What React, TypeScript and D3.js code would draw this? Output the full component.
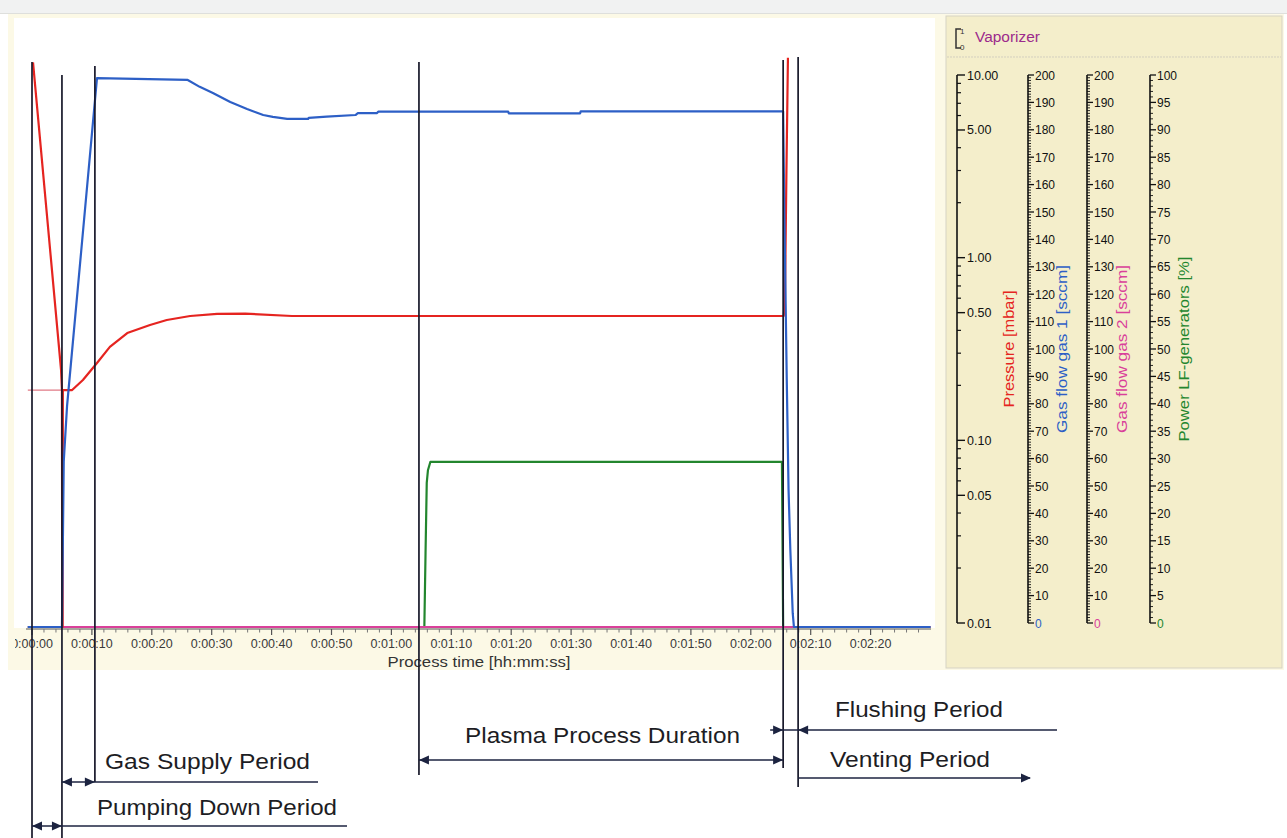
import React from "react";
import * as d3 from "d3";

type Pt = [number, number];

// ---------- DATA ----------
const timeTickValues = [0, 10, 20, 30, 40, 50, 60, 70, 80, 90, 100, 110, 120, 130, 140];
const timeTickLabels = [
  "0:00:00", "0:00:10", "0:00:20", "0:00:30", "0:00:40", "0:00:50", "0:01:00",
  "0:01:10", "0:01:20", "0:01:30", "0:01:40", "0:01:50", "0:02:00", "0:02:10", "0:02:20",
];

const pressureTickValues = [10, 5, 1, 0.5, 0.1, 0.05, 0.01];
const pressureTickLabels = ["10.00", "5.00", "1.00", "0.50", "0.10", "0.05", "0.01"];
const gasFlowTickValues = [0, 10, 20, 30, 40, 50, 60, 70, 80, 90, 100, 110, 120, 130, 140, 150, 160, 170, 180, 190, 200];
const powerTickValues = [0, 5, 10, 15, 20, 25, 30, 35, 40, 45, 50, 55, 60, 65, 70, 75, 80, 85, 90, 95, 100];

// time [s], pressure [mbar]
const pressure: Pt[] = [
  [0.17, 11.7], [4.85, 0.25], [5.0, 0.194], [5.05, 0.01], [5.12, 0.01], [5.15, 0.194],
  [6.7, 0.194], [8.5, 0.22], [10.85, 0.272], [13.0, 0.333], [15.9, 0.396], [19.7, 0.438],
  [22.5, 0.466], [26.4, 0.49], [30.9, 0.503], [35.6, 0.505], [43.4, 0.49], [50, 0.49],
  [125.5, 0.49], [125.7, 0.6], [125.95, 3.0], [126.2, 12.4],
];
const pressureStartLevel: Pt[] = [[-0.7, 0.194], [5.0, 0.194]];

// time [s], gas flow gas 1 [sccm]
const gasFlow1: Pt[] = [
  [-0.7, 0], [5.0, 0], [5.3, 60], [5.85, 80], [10.85, 198.9], [26.0, 198.2], [28.0, 195.7],
  [30.2, 193.5], [33.1, 190.2], [35.9, 187.7], [38.6, 185.5], [40.2, 184.8], [42.6, 184.1],
  [46.1, 184.1], [46.2, 184.5], [49.2, 184.9], [54.0, 185.5], [54.4, 186.2], [57.6, 186.2],
  [57.8, 186.7], [79.5, 186.7], [79.6, 186.1], [91.5, 186.1], [91.6, 186.8], [125.4, 186.8],
  [125.6, 150], [126.0, 90], [126.3, 50], [126.6, 28], [127.0, 5], [127.2, 0], [150, 0],
];
// time [s], gas flow gas 2 [sccm]
const gasFlow2: Pt[] = [[-0.7, 0], [150, 0]];
// time [s], power LF-generators [%]
const powerLF: Pt[] = [
  [-0.7, 0], [65.5, 0], [65.7, 13.4], [65.9, 26.1], [66.1, 28.4], [66.5, 29.9],
  [125.2, 29.9], [125.4, 0], [150, 0],
];

// period boundaries [s]
const periodTimes = [0, 5.0, 10.5, 64.6, 125.4, 127.9];
const periodLabels = [
  "Pumping Down Period", "Gas Supply Period", "Plasma Process Duration", "Flushing Period", "Venting Period",
];

// ---------- LAYOUT ----------
const W = 1287;
const H = 838;
const PLOT = { left: 14, right: 935, top: 18, bottom: 627 };
const markerTop = [62, 75, 66, 62, 60, 57];
const markerBottom = [838, 838, 782, 775, 768, 787];

const COLORS = {
  pressure: "#e52420",
  gas1: "#2d5fc6",
  gas2: "#d9409a",
  power: "#23862e",
  marker: "#17182a",
  ink: "#1c2340",
};

const FONT = "'Liberation Sans', Arial, sans-serif";

function arrow(tipX: number, y: number, dir: number) {
  const l = 10, h = 4.5;
  return `${tipX},${y} ${tipX - dir * l},${y - h} ${tipX - dir * l},${y + h}`;
}

export default function App() {
  const x = d3.scaleLinear().domain([0, 150]).range([32, 930.5]);
  const yP = d3.scaleLog().domain([0.01, 10]).range([627, 75]);
  const yG = d3.scaleLinear().domain([0, 200]).range([627, 75]);
  const yW = d3.scaleLinear().domain([0, 100]).range([627, 75]);

  const pP = d3.scaleLog().domain([0.01, 10]).range([623, 75]);
  const pG = d3.scaleLinear().domain([0, 200]).range([623, 75]);
  const pW = d3.scaleLinear().domain([0, 100]).range([623, 75]);

  const lineP = d3.line<Pt>().x((d) => x(d[0])).y((d) => yP(d[1]));
  const lineG = d3.line<Pt>().x((d) => x(d[0])).y((d) => yG(d[1]));
  const lineW = d3.line<Pt>().x((d) => x(d[0])).y((d) => yW(d[1]));

  const minorTimeTicks = d3.range(0, 151, 2).filter((t) => t % 10 !== 0);

  const pressureMinor: number[] = [];
  [0.01, 0.1, 1].forEach((dec) => {
    for (let k = 2; k <= 9; k++) {
      if (k !== 5) pressureMinor.push(dec * k);
    }
  });
  const gasMinor = d3.range(0, 201, 1).filter((v) => v % 10 !== 0);
  const powerMinor = d3.range(0, 101, 1).filter((v) => v % 5 !== 0);

  const mx = periodTimes.map((t) => x(t));

  const panelAxes = [
    { ax: 1028, scale: pG, ticks: gasFlowTickValues, minor: gasMinor, color: COLORS.gas1, title: "Gas flow gas 1 [sccm]", tx: 1067, tlen: 168 },
    { ax: 1087, scale: pG, ticks: gasFlowTickValues, minor: gasMinor, color: COLORS.gas2, title: "Gas flow gas 2 [sccm]", tx: 1127, tlen: 168 },
    { ax: 1150, scale: pW, ticks: powerTickValues, minor: powerMinor, color: COLORS.power, title: "Power LF-generators [%]", tx: 1189, tlen: 185 },
  ];

  return (
    <svg width={W} height={H} style={{ position: "absolute", left: 0, top: 0, fontFamily: FONT }}>
      <defs>
        <clipPath id="plotClip">
          <rect x={PLOT.left} y={PLOT.top} width={PLOT.right - PLOT.left} height={PLOT.bottom - PLOT.top + 1.5} />
        </clipPath>
        <clipPath id="tickClip">
          <rect x={15} y={630} width={925} height={30} />
        </clipPath>
      </defs>

      {/* backgrounds */}
      <rect x={0} y={0} width={W} height={H} fill="#ffffff" />
      <rect x={0} y={0} width={W} height={14} fill="#f1f2f2" />
      <line x1={0} x2={W} y1={13.5} y2={13.5} stroke="#dedfdc" />
      <rect x={8} y={14} width={1276} height={656} fill="#fcf9e6" />
      <rect x={PLOT.left} y={PLOT.top} width={PLOT.right - PLOT.left} height={PLOT.bottom - PLOT.top + 1} fill="#ffffff" />
      <rect x={946} y={16} width={336} height={652} fill="#f4eecb" stroke="#d6d3c3" />
      <line x1={947} x2={1281} y1={57} y2={57} stroke="#d3cfbf" strokeDasharray="2 1" />

      {/* x axis */}
      <line x1={PLOT.left + 12} x2={931} y1={629} y2={629} stroke="#555" strokeWidth={1} />
      {timeTickValues.map((t) => (
        <line key={"M" + t} x1={x(t)} x2={x(t)} y1={629} y2={635} stroke="#555" strokeWidth={1.2} />
      ))}
      {minorTimeTicks.map((t) => (
        <line key={"m" + t} x1={x(t)} x2={x(t)} y1={629} y2={632.5} stroke="#777" strokeWidth={1} />
      ))}
      <g clipPath="url(#tickClip)">
        {timeTickValues.map((t, i) => (
          <text key={"L" + t} x={x(t)} y={648} fontSize={12.5} fill="#3a3a3a" textAnchor="middle">
            {timeTickLabels[i]}
          </text>
        ))}
      </g>
      <text x={479} y={667} fontSize={14} fill="#333" textAnchor="middle" textLength={183} lengthAdjust="spacingAndGlyphs">
        Process time [hh:mm:ss]
      </text>

      {/* series */}
      <g clipPath="url(#plotClip)" fill="none" strokeLinejoin="round">
        <path d={lineW(powerLF) || ""} stroke={COLORS.power} strokeWidth={2.2} />
        <path d={lineG(gasFlow2) || ""} stroke={COLORS.gas2} strokeWidth={2} />
        <path d={lineP(pressureStartLevel) || ""} stroke="#e07a86" strokeWidth={1.2} />
        <path d={lineP(pressure) || ""} stroke={COLORS.pressure} strokeWidth={2.2} />
        <path d={lineG(gasFlow1) || ""} stroke={COLORS.gas1} strokeWidth={2.2} />
      </g>

      {/* period markers */}
      {mx.map((px, i) => (
        <line key={"pm" + i} x1={px} x2={px} y1={markerTop[i]} y2={markerBottom[i]} stroke={COLORS.marker} strokeWidth={1.7} />
      ))}

      {/* annotations */}
      <g stroke={COLORS.ink} fill={COLORS.ink} strokeWidth={1.6}>
        {/* Pumping down */}
        <line x1={mx[0]} x2={347} y1={826} y2={826} />
        <polygon points={arrow(mx[0], 826, -1)} stroke="none" />
        <polygon points={arrow(mx[1], 826, 1)} stroke="none" />
        {/* Gas supply */}
        <line x1={mx[1]} x2={318} y1={782} y2={782} />
        <polygon points={arrow(mx[1], 782, -1)} stroke="none" />
        <polygon points={arrow(mx[2], 782, 1)} stroke="none" />
        {/* Plasma */}
        <line x1={mx[3]} x2={mx[4]} y1={760} y2={760} />
        <polygon points={arrow(mx[3], 760, -1)} stroke="none" />
        <polygon points={arrow(mx[4], 760, 1)} stroke="none" />
        {/* Flushing */}
        <line x1={mx[4] - 13} x2={1057} y1={730} y2={730} />
        <polygon points={arrow(mx[4], 730, 1)} stroke="none" />
        <polygon points={arrow(mx[5], 730, -1)} stroke="none" />
        {/* Venting */}
        <line x1={mx[5]} x2={1030} y1={778} y2={778} />
        <polygon points={arrow(1031, 778, 1)} stroke="none" />
      </g>
      <g fontSize={22} fill="#1d1d24">
        <text x={97} y={815} textLength={240} lengthAdjust="spacingAndGlyphs">{periodLabels[0]}</text>
        <text x={105} y={769} textLength={205} lengthAdjust="spacingAndGlyphs">{periodLabels[1]}</text>
        <text x={465} y={743} textLength={275} lengthAdjust="spacingAndGlyphs">{periodLabels[2]}</text>
        <text x={835} y={717} textLength={168} lengthAdjust="spacingAndGlyphs">{periodLabels[3]}</text>
        <text x={830} y={767} textLength={160} lengthAdjust="spacingAndGlyphs">{periodLabels[4]}</text>
      </g>

      {/* right panel header */}
      <path d="M961,29 H956 V48 H961" fill="none" stroke="#333" strokeWidth={1.5} />
      <text x={960} y={34} fontSize={8} fill="#333">1</text>
      <text x={960} y={50} fontSize={8} fill="#333">0</text>
      <text x={975} y={42} fontSize={14} fill="#9c2a8c" textLength={65} lengthAdjust="spacingAndGlyphs">Vaporizer</text>

      {/* pressure axis */}
      <line x1={957} x2={957} y1={pP(10)} y2={pP(0.01)} stroke="#111" strokeWidth={1.6} />
      {pressureTickValues.map((v, i) => (
        <g key={"pt" + v}>
          <line x1={957} x2={965} y1={pP(v)} y2={pP(v)} stroke="#111" strokeWidth={1.4} />
          <text x={967} y={pP(v) + 4.5} fontSize={12.5} fill="#111">{pressureTickLabels[i]}</text>
        </g>
      ))}
      {pressureMinor.map((v) => (
        <line key={"pm" + v} x1={957} x2={961} y1={pP(v)} y2={pP(v)} stroke="#111" strokeWidth={1.2} />
      ))}
      <text
        transform="translate(1014,349) rotate(-90)"
        fontSize={14}
        fill={COLORS.pressure}
        textAnchor="middle"
        textLength={117}
        lengthAdjust="spacingAndGlyphs"
      >
        Pressure [mbar]
      </text>

      {/* linear panel axes */}
      {panelAxes.map((a, ai) => (
        <g key={"ax" + ai}>
          <line x1={a.ax} x2={a.ax} y1={a.scale.range()[1]} y2={a.scale.range()[0]} stroke="#111" strokeWidth={1.6} />
          {a.minor.map((v) => (
            <line key={"mi" + v} x1={a.ax} x2={a.ax + 3} y1={a.scale(v)} y2={a.scale(v)} stroke="#111" strokeWidth={0.9} />
          ))}
          {a.ticks.map((v, i) => (
            <g key={"tk" + v}>
              <line x1={a.ax} x2={a.ax + 6} y1={a.scale(v)} y2={a.scale(v)} stroke="#111" strokeWidth={1.3} />
              <text x={a.ax + 7} y={a.scale(v) + 4.5} fontSize={12} fill={i === 0 ? a.color : "#111"}>
                {String(v)}
              </text>
            </g>
          ))}
          <text
            transform={`translate(${a.tx},349) rotate(-90)`}
            fontSize={14}
            fill={a.color}
            textAnchor="middle"
            textLength={a.tlen}
            lengthAdjust="spacingAndGlyphs"
          >
            {a.title}
          </text>
        </g>
      ))}
    </svg>
  );
}
